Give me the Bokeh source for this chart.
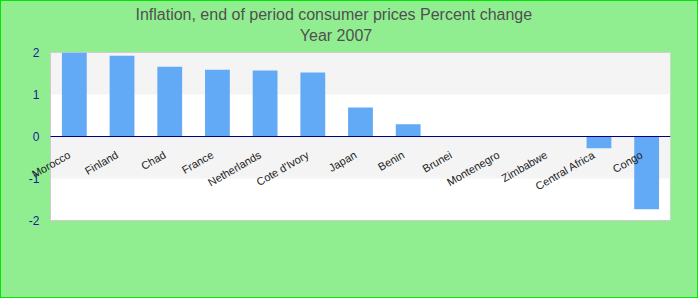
import math
from bokeh.plotting import figure
from bokeh.models import Title, ColumnDataSource, Label, BoxAnnotation, Range1d
from bokeh.embed import file_html
from bokeh.resources import INLINE

countries = ["Morocco", "Finland", "Chad", "France", "Netherlands", "Cote d'Ivory",
             "Japan", "Benin", "Brunei", "Montenegro", "Zimbabwe", "Central Africa", "Congo"]
values = [1.99, 1.92, 1.66, 1.59, 1.57, 1.52, 0.69, 0.29, 0.0, 0.0, 0.0, -0.28, -1.73]
y_ticks = [-2, -1, 0, 1, 2]
y_tick_labels = ["-2", "-1", "0", "1", "2"]

n = len(countries)
y_min, y_max = y_ticks[0], y_ticks[-1]

# geometry (pixels) of the canvas and of the data area inside it
W, H = 698, 298
data_left, data_right = 49, 669          # x pixels of category range [0, n]
data_top, data_bottom = 50, 219          # y pixels of value range [y_max, y_min]
pad = 9                                   # frame extends beyond data area so edge labels are not clipped
px_x = (data_right - data_left) / n
px_y = (data_bottom - data_top) / (y_max - y_min)

x_range = Range1d(-data_left / px_x, n)
y_range = Range1d(y_min - pad / px_y, y_max + pad / px_y)

xs = [i + 0.5 for i in range(n)]        # centre of each category
src = ColumnDataSource(dict(x=xs, top=values, name=countries))

GREEN = "#90ee90"
p = figure(x_range=x_range, y_range=y_range, width=W, height=H,
           output_backend="svg", toolbar_location=None,
           x_axis_location=None, y_axis_location=None,
           min_border_left=0, min_border_right=W - data_right,
           min_border_top=data_top - pad, min_border_bottom=H - data_bottom - pad,
           background_fill_color=GREEN, border_fill_color=GREEN,
           outline_line_color=None,
           title="Inflation, end of period consumer prices  Percent change",
           styles={"border": "1px solid #00e600", "background-color": GREEN})
p.xgrid.visible = False
p.ygrid.visible = False

p.title.align = "center"
p.title.text_font = "Liberation Sans"
p.title.text_font_size = "16px"
p.title.text_font_style = "normal"
p.title.text_color = "#505050"
p.title.standoff = 4
p.add_layout(Title(text="Year 2007", align="center", text_font="Liberation Sans",
                   text_font_size="16px", text_font_style="normal",
                   text_color="#505050", standoff=0), "above")

# plot area: white background, alternating grey bands, light grey border
p.add_layout(BoxAnnotation(left=0, right=n, bottom=y_min, top=y_max, level="underlay",
                           fill_color="white", fill_alpha=1, line_color=None))
for k in range(len(y_ticks) - 1):
    if k % 2 == 1:
        p.add_layout(BoxAnnotation(left=0, right=n, bottom=y_ticks[k], top=y_ticks[k + 1],
                                   level="underlay", fill_color="#f4f4f4", fill_alpha=1,
                                   line_color=None))
p.add_layout(BoxAnnotation(left=0, right=n, bottom=y_min, top=y_max, level="underlay",
                           fill_color=None, fill_alpha=0, line_color="#cccccc",
                           line_width=1, line_alpha=1))

p.vbar(x="x", top="top", bottom=0, width=0.52, source=src,
       fill_color="#62aaf5", line_color=None)

# zero line acting as the category axis
p.segment(x0=[0], x1=[n], y0=[0], y1=[0], line_color="#000080", line_width=1)

# category labels along the zero line
for x, c in zip(xs, countries):
    p.add_layout(Label(x=x, y=0, text=c, angle=math.pi / 6,
                       x_offset=-8, y_offset=-12, text_align="right", text_baseline="top",
                       text_font="Liberation Sans", text_font_size="11px",
                       text_color="#222222"))

# value tick labels
for t, s in zip(y_ticks, y_tick_labels):
    p.add_layout(Label(x=0, y=t, text=s, x_offset=-11, y_offset=0,
                       text_align="right", text_baseline="middle",
                       text_font="Liberation Sans", text_font_size="12px",
                       text_color="#1a1a9a"))

open("out.html", "w").write(file_html(p, INLINE))
